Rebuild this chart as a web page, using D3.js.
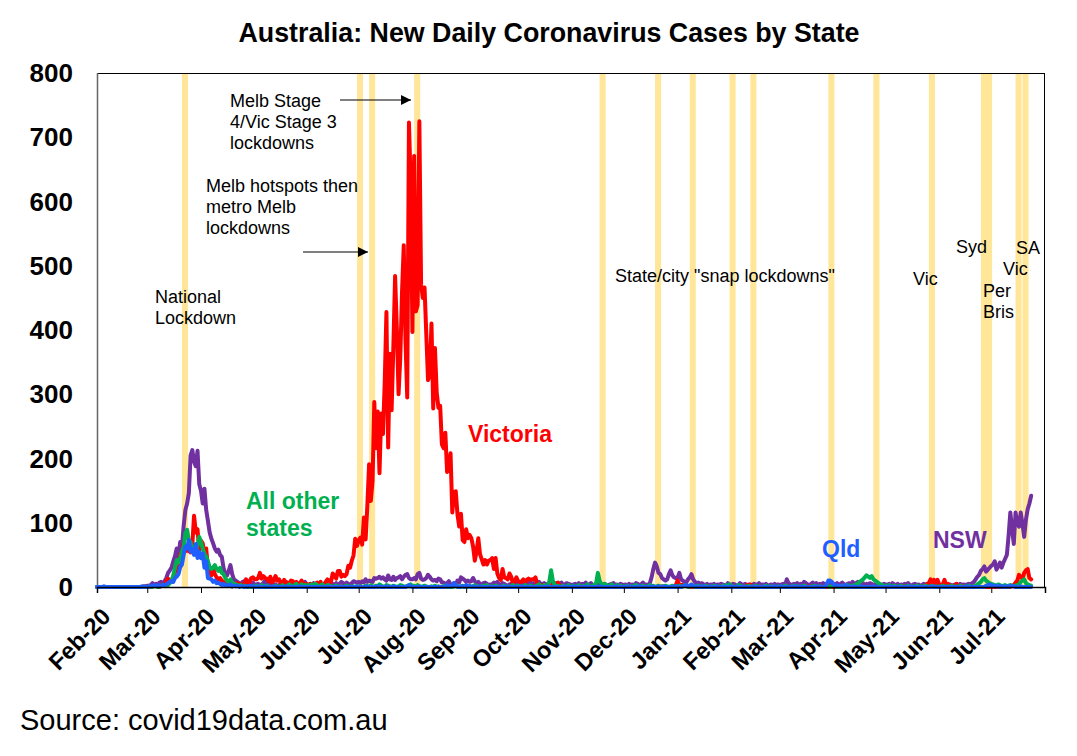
<!DOCTYPE html>
<html>
<head>
<meta charset="utf-8">
<script src="https://cdn.jsdelivr.net/npm/d3@7"></script>
<style>
  html, body { margin: 0; padding: 0; background: #fff; }
  svg { display: block; font-family: "Liberation Sans", Arial, sans-serif; }
</style>
</head>
<body>
<div id="chart"></div>
<script>
// Daily new cases, one inner array per month, starting Feb 2020.
// Day i of month m is new Date(2020, 1 + m, i + 1).
const nswDaily = [
  [0,0,0,0,0,0,0,0,0,0,0,0,0,0,0,0,0,0,0,0,0,0,0,0,0,0,0,1,0],
  [2,2,3,6,3,5,2,7,8,6,9,14,22,26,30,40,48,60,45,70,62,95,120,130,146,205,213,195,188,212,160],
  [150,130,153,120,103,85,75,68,60,55,58,50,47,30,21,18,25,34,20,12,10,8,6,5,8,9,4,6,9,5],
  [7,3,4,5,2,4,6,10,7,6,3,5,2,4,1,3,5,2,3,8,4,5,6,4,3,2,5,3,4,6,8],
  [4,3,5,2,6,3,4,2,5,3,4,6,3,2,4,5,3,6,4,5,8,6,4,7,5,3,6,9,8,7],
  [8,6,9,7,12,8,10,9,8,14,13,14,16,13,15,12,10,18,12,11,16,11,14,15,17,12,16,19,20,14,12],
  [12,14,12,20,22,13,11,12,14,19,16,12,10,11,9,13,12,7,7,5,6,9,4,3,6,3,10,7,15,13,11],
  [8,10,8,9,14,9,6,8,5,4,6,7,5,3,4,4,7,5,8,4,3,6,5,3,2,4,5,3,6,5],
  [4,6,3,5,2,7,5,8,4,6,3,7,8,5,4,6,3,5,7,4,5,3,6,4,5,7,3,4,6,5,4],
  [3,4,5,2,6,3,5,4,7,3,4,6,3,2,5,4,6,3,4,5,2,3,4,5,6,3,4,2,5,4],
  [3,4,2,5,3,4,2,6,5,3,4,7,3,4,2,6,15,28,38,32,22,20,14,12,10,12,20,26,18,15,14],
  [15,22,12,10,8,7,12,15,20,12,8,6,7,5,6,4,3,5,2,4,3,5,2,4,3,5,4,3,2,6,4],
  [3,5,4,2,3,6,4,3,5,2,4,3,2,5,4,3,6,2,4,3,5,2,3,4,2,5,3,4],
  [3,4,5,2,12,6,4,3,5,4,6,3,5,4,8,6,4,3,5,7,4,6,3,5,4,6,3,5,4,6,5],
  [5,4,6,3,5,7,4,3,5,6,4,8,5,6,8,5,4,6,3,5,4,6,5,3,4,6,5,4,3,5],
  [4,3,5,2,6,4,3,5,2,4,3,5,4,6,3,2,4,5,3,4,2,3,5,4,3,6,4,3,2,5,4],
  [3,2,4,3,5,2,4,3,2,4,3,2,5,3,4,3,4,5,4,6,8,12,16,19,25,28,32,24,27,30],
  [33,35,40,27,32,38,30,38,44,50,80,116,90,67,116,100,94,116,98,78,105,121,130,142]
];

const vicDaily = [
  [0,0,0,0,0,0,0,0,0,0,0,0,0,0,0,0,0,0,0,0,0,0,0,0,0,0,0,0,1],
  [0,1,0,2,1,2,1,0,3,3,2,9,13,9,8,14,23,27,30,51,49,67,56,57,56,54,66,111,85,90,56],
  [72,68,50,60,30,25,18,30,20,15,12,14,10,8,5,7,3,5,1,2,3,6,5,3,4,5,12,8,7,14],
  [15,12,12,14,22,13,17,14,13,9,16,7,10,17,10,12,7,6,11,6,7,3,10,9,6,8,5,5,10,5,5],
  [4,2,5,3,4,5,7,3,8,3,4,8,12,9,8,21,18,13,25,25,16,19,17,20,33,30,41,49,75,64],
  [73,77,66,108,74,127,191,134,165,288,216,273,177,270,238,317,428,217,363,275,374,484,403,300,357,459,532,384,295,723,627],
  [397,671,429,439,725,471,450,466,394,322,331,410,278,372,303,279,282,222,216,240,179,182,208,116,148,149,113,94,114,73,70],
  [90,76,81,76,63,41,55,76,51,43,35,42,35,41,42,45,28,45,21,14,11,28,15,14,12,21,16,5,10,15],
  [9,8,8,12,8,11,13,11,12,12,15,4,1,2,3,2,1,2,1,3,1,1,5,7,0,0,2,0,2,0,0],
  [0,0,0,0,0,0,1,0,0,0,0,0,0,0,0,0,0,0,0,0,0,0,0,0,0,0,0,0,0,0],
  [0,0,0,0,0,0,0,0,0,0,0,0,0,0,0,0,0,0,0,0,0,0,1,0,0,0,0,0,0,1,3],
  [10,3,3,3,2,1,2,0,1,0,0,0,1,0,0,0,0,0,1,0,0,0,0,0,1,0,0,0,0,0,0],
  [0,0,1,1,2,1,1,1,1,3,3,4,2,1,1,1,0,0,1,0,0,0,0,0,0,0,0,0],
  [0,0,0,1,0,0,0,0,1,0,0,0,0,0,0,0,0,1,0,0,0,0,0,0,0,0,0,0,0,1,0],
  [0,0,0,0,0,0,1,0,0,0,0,0,0,1,0,0,0,0,0,0,0,0,0,0,0,0,0,0,0,0],
  [0,0,0,0,0,0,0,0,0,0,0,1,0,0,0,0,0,0,0,0,0,0,0,1,5,6,12,4,11,5,11],
  [4,1,4,11,2,5,2,2,2,0,5,1,0,2,0,0,0,0,0,0,0,0,0,1,0,0,0,0,0,0],
  [0,1,0,0,0,0,0,0,1,0,0,0,2,3,7,10,19,16,13,22,26,28,14,12]
];

const qldDaily = [
  [0,0,0,0,1,0,0,0,0,0,0,0,0,0,0,0,0,0,0,0,0,0,0,0,0,0,1,0,1],
  [0,0,2,1,3,2,2,3,1,3,3,4,6,8,9,8,14,16,20,31,35,50,63,60,73,55,59,50,67,45,55],
  [45,52,30,40,14,13,12,8,10,6,7,5,3,5,2,3,2,4,1,2,1,2,0,1,1,0,1,0,2,1],
  [1,0,0,1,0,0,0,1,0,0,0,0,1,0,0,0,0,0,0,1,0,0,0,0,0,0,0,1,0,0,0],
  [0,0,0,0,0,0,0,0,0,0,0,0,0,0,0,0,0,0,0,0,0,0,0,0,0,0,0,0,0,1],
  [0,0,0,0,0,1,0,0,0,0,1,0,1,0,0,0,1,0,0,0,1,0,0,0,0,0,0,0,1,3,1],
  [0,0,0,0,1,0,0,0,0,0,0,0,0,0,0,0,0,0,0,0,3,0,2,1,6,1,1,0,1,1,0],
  [3,1,1,0,1,0,0,0,1,0,0,0,0,0,0,0,0,0,0,0,0,0,0,1,0,0,0,0,0,0],
  [0,0,1,0,0,0,0,0,0,0,0,0,0,0,0,0,0,1,0,0,0,0,0,0,0,0,0,1,0,0,0],
  [0,1,0,0,0,0,0,0,1,0,0,0,0,0,0,0,1,0,0,0,0,0,0,0,0,0,1,0,0,0],
  [0,0,1,0,0,0,0,0,0,1,0,0,0,0,0,0,1,0,0,0,1,0,0,1,0,0,0,0,0,1,0],
  [1,0,0,1,2,3,1,2,4,2,1,0,0,1,0,1,0,0,0,1,0,0,0,1,0,0,0,1,0,0,0],
  [1,0,0,1,0,0,0,1,0,0,0,0,0,1,0,0,0,0,1,0,0,0,0,0,0,1,0,0],
  [0,1,0,0,0,0,0,0,1,0,0,0,1,0,0,0,0,0,0,0,0,1,0,0,0,0,0,4,10,10,8],
  [4,3,1,2,1,0,2,3,0,1,0,0,1,0,0,0,1,0,0,0,0,0,0,1,0,0,0,0,0,0],
  [0,0,1,0,0,0,0,0,0,0,0,0,0,0,1,0,0,0,0,0,0,0,0,0,0,0,0,1,0,0,0],
  [0,0,0,0,0,0,0,0,0,0,0,0,0,0,0,0,1,0,0,0,0,0,0,0,0,0,0,2,3,4],
  [3,2,2,1,0,2,0,1,0,1,0,2,1,1,0,0,0,1,0,0,0,0,0,0]
];

const otherDaily = [
  [0,0,0,0,0,0,0,0,0,0,0,0,0,0,0,0,0,0,0,0,0,0,0,0,0,0,0,0,0],
  [0,1,1,0,2,1,0,1,2,3,2,4,3,6,10,18,30,42,38,45,55,62,84,89,73,70,60,62,55,65,78],
  [70,60,52,47,40,31,28,30,34,28,25,30,22,20,14,10,8,12,6,5,4,3,2,3,1,2,1,0,1,0],
  [1,0,2,1,0,3,1,0,2,1,0,0,1,2,0,1,0,3,1,0,2,4,1,0,3,5,2,1,4,2,3],
  [2,3,1,4,2,5,3,1,2,4,1,0,3,2,1,0,1,2,0,1,0,0,1,2,0,1,0,1,0,1],
  [0,1,0,0,2,1,0,3,1,0,2,1,4,2,1,0,3,2,1,0,2,1,0,1,3,2,1,0,2,1,4],
  [1,2,0,3,1,0,1,2,1,0,0,1,0,2,0,1,0,0,1,2,0,1,0,0,1,3,0,1,0,2,0],
  [1,0,2,0,1,3,0,1,0,1,2,0,3,1,0,1,0,2,1,0,0,1,2,0,1,0,1,3,0,1],
  [2,0,1,0,3,1,0,2,1,0,1,2,4,1,0,3,1,2,8,26,10,3,1,2,0,1,2,1,0,3,1],
  [1,2,0,1,3,1,0,2,1,4,1,0,2,3,6,22,10,4,2,5,3,1,2,4,1,0,3,1,2,1],
  [0,1,2,0,1,0,2,3,1,0,1,2,0,1,0,3,1,2,0,1,2,0,1,0,2,1,0,1,2,0,1],
  [1,2,0,1,3,2,0,1,2,1,0,1,2,0,1,0,2,1,0,1,0,2,1,0,1,0,2,1,3,0,4],
  [2,1,0,1,3,2,1,0,1,0,2,1,0,1,2,0,1,0,0,1,2,0,1,0,1,0,0,1],
  [0,1,0,2,1,0,0,1,2,0,1,0,1,0,2,1,0,0,1,0,2,1,0,1,0,0,1,2,1,0,1],
  [2,1,0,1,0,2,1,0,3,1,2,1,3,4,5,8,10,12,15,18,16,14,17,12,10,8,6,4,3,2],
  [2,1,3,1,0,2,1,0,1,2,0,1,0,2,1,0,1,0,2,1,0,1,0,2,1,0,1,2,0,1,0],
  [1,0,2,1,0,1,0,2,1,0,1,0,2,1,0,1,0,2,1,0,1,2,4,6,8,12,14,10,8,6],
  [5,4,3,2,4,3,1,2,3,1,2,3,2,1,2,3,4,8,10,12,6,4,3,2]
];

// Lockdown bands: start date of each shaded strip and its length in days
const lockdownStarts = ["2020-03-21","2020-06-30","2020-07-07","2020-08-02","2020-11-17",
  "2020-12-19","2021-01-08","2021-01-31","2021-02-12","2021-03-29","2021-04-24",
  "2021-05-26","2021-06-25","2021-06-28","2021-07-15","2021-07-19"];
const lockdownDays = [3.5,3.5,3.5,3.5,3.5,3.5,3.5,3.5,3.5,3.5,3.5,3.5,3.5,3.5,3.5,3.5];

const yTicks = [0,100,200,300,400,500,600,700,800];
const monthTicks = ["Feb-20","Mar-20","Apr-20","May-20","Jun-20","Jul-20","Aug-20","Sep-20",
  "Oct-20","Nov-20","Dec-20","Jan-21","Feb-21","Mar-21","Apr-21","May-21","Jun-21","Jul-21"];

const W = 1077, H = 756;
const plot = { left: 97, right: 1045, top: 73, bottom: 587 };

const svg = d3.select("#chart").append("svg").attr("width", W).attr("height", H);
svg.append("rect").attr("width", W).attr("height", H).attr("fill", "#fff");

const x = d3.scaleTime()
  .domain([new Date(2020, 1, 1), new Date(2021, 7, 1)])
  .range([plot.left, plot.right]);
const y = d3.scaleLinear().domain([0, 800]).range([plot.bottom, plot.top]);

const toPoints = (months) => months.flatMap((vals, m) =>
  vals.map((v, i) => ({ date: new Date(2020, 1 + m, i + 1), value: v })));

// Lockdown bands
const parse = d3.timeParse("%Y-%m-%d");
const DAY = 864e5;
svg.append("g").selectAll("rect")
  .data(lockdownStarts.map((s, i) => ({ start: parse(s), days: lockdownDays[i] })))
  .join("rect")
  .attr("x", (d) => x(d.start))
  .attr("width", (d) => x(new Date(+d.start + d.days * DAY)) - x(d.start))
  .attr("y", plot.top)
  .attr("height", plot.bottom - plot.top)
  .attr("fill", "#ffe699");

// Frame: top & right border, left axis
svg.append("line").attr("x1", plot.left).attr("x2", plot.right)
  .attr("y1", plot.top + 0.5).attr("y2", plot.top + 0.5).attr("stroke", "#000");
svg.append("line").attr("x1", plot.right - 0.5).attr("x2", plot.right - 0.5)
  .attr("y1", plot.top).attr("y2", plot.bottom).attr("stroke", "#000");
svg.append("line").attr("x1", plot.left + 0.5).attr("x2", plot.left + 0.5)
  .attr("y1", plot.top).attr("y2", plot.bottom).attr("stroke", "#666").attr("stroke-width", 1.5);

// Series lines
const line = d3.line().x((d) => x(d.date)).y((d) => y(d.value));
const series = [
  { name: "NSW", data: nswDaily, color: "#7030a0" },
  { name: "Victoria", data: vicDaily, color: "#ff0000" },
  { name: "All other states", data: otherDaily, color: "#00b050" },
  { name: "Qld", data: qldDaily, color: "#1f5fff" },
];
svg.append("g").selectAll("path")
  .data(series)
  .join("path")
  .attr("d", (s) => line(toPoints(s.data)))
  .attr("fill", "none")
  .attr("stroke", (s) => s.color)
  .attr("stroke-width", 4)
  .attr("stroke-linejoin", "round")
  .attr("stroke-linecap", "round");

// X axis
const monthDates = monthTicks.map((_, i) => new Date(2020, 1 + i, 1));
const xAxis = svg.append("g").attr("transform", `translate(0,${plot.bottom})`)
  .call(d3.axisBottom(x).tickValues(monthDates).tickSize(6).tickFormat(""));
xAxis.select(".domain").attr("stroke", "#000").attr("stroke-width", 1.5);
xAxis.selectAll(".tick line").attr("stroke", "#000");
svg.append("g").selectAll("text")
  .data(monthDates)
  .join("text")
  .attr("transform", (d) => `translate(${x(d) + 15},${plot.bottom + 31}) rotate(-45)`)
  .attr("text-anchor", "end")
  .attr("font-size", 23.5)
  .attr("font-weight", "bold")
  .attr("fill", "#000")
  .text((d, i) => monthTicks[i]);

// Y axis labels
svg.append("g").selectAll("text")
  .data(yTicks)
  .join("text")
  .attr("x", 73)
  .attr("y", (d) => y(d) + 9)
  .attr("text-anchor", "end")
  .attr("font-size", 26)
  .attr("font-weight", "bold")
  .attr("fill", "#000")
  .text((d) => d);

// Title & source
svg.append("text").attr("x", 549).attr("y", 42).attr("text-anchor", "middle")
  .attr("font-size", 26.8).attr("font-weight", "bold").text("Australia: New Daily Coronavirus Cases by State");
svg.append("text").attr("x", 20).attr("y", 730).attr("font-size", 29)
  .text("Source: covid19data.com.au");

// Annotations
const notes = [
  { x: 155, y: 303, lines: ["National", "Lockdown"] },
  { x: 230, y: 107, lines: ["Melb Stage", "4/Vic Stage 3", "lockdowns"] },
  { x: 206, y: 192, lines: ["Melb hotspots then", "metro Melb", "lockdowns"] },
  { x: 615, y: 282, lines: ["State/city \"snap lockdowns\""] },
  { x: 913, y: 285, lines: ["Vic"] },
  { x: 956, y: 253, lines: ["Syd"] },
  { x: 1016, y: 254, lines: ["SA"] },
  { x: 1003, y: 275, lines: ["Vic"] },
  { x: 983, y: 297, lines: ["Per", "Bris"] },
];
notes.forEach((n) => {
  const t = svg.append("text").attr("font-size", 18).attr("fill", "#000");
  n.lines.forEach((l, i) => t.append("tspan").attr("x", n.x).attr("y", n.y + i * 21).text(l));
});

// Arrows
svg.append("defs").append("marker")
  .attr("id", "arrow").attr("viewBox", "0 0 10 10").attr("refX", 10).attr("refY", 5)
  .attr("markerWidth", 10).attr("markerHeight", 10).attr("markerUnits", "userSpaceOnUse")
  .attr("orient", "auto")
  .append("path").attr("d", "M0,0L10,5L0,10Z").attr("fill", "#000");
[[340, 100, 411, 100], [303, 252, 368, 252]].forEach(([x1, y1, x2, y2]) =>
  svg.append("line").attr("x1", x1).attr("y1", y1).attr("x2", x2).attr("y2", y2)
    .attr("stroke", "#000").attr("stroke-width", 1).attr("marker-end", "url(#arrow)"));

// Series labels
const seriesLabels = [
  { lines: ["Victoria"], x: 468, y: 442, color: "#ff0000" },
  { lines: ["All other", "states"], x: 246, y: 509, color: "#00b050" },
  { lines: ["Qld"], x: 822, y: 557, color: "#1f5fff" },
  { lines: ["NSW"], x: 933, y: 548, color: "#7030a0" },
];
seriesLabels.forEach((s) => {
  const t = svg.append("text").attr("font-size", 23).attr("font-weight", "bold").attr("fill", s.color);
  s.lines.forEach((l, i) => t.append("tspan").attr("x", s.x).attr("y", s.y + i * 27).text(l));
});
</script>
</body>
</html>
